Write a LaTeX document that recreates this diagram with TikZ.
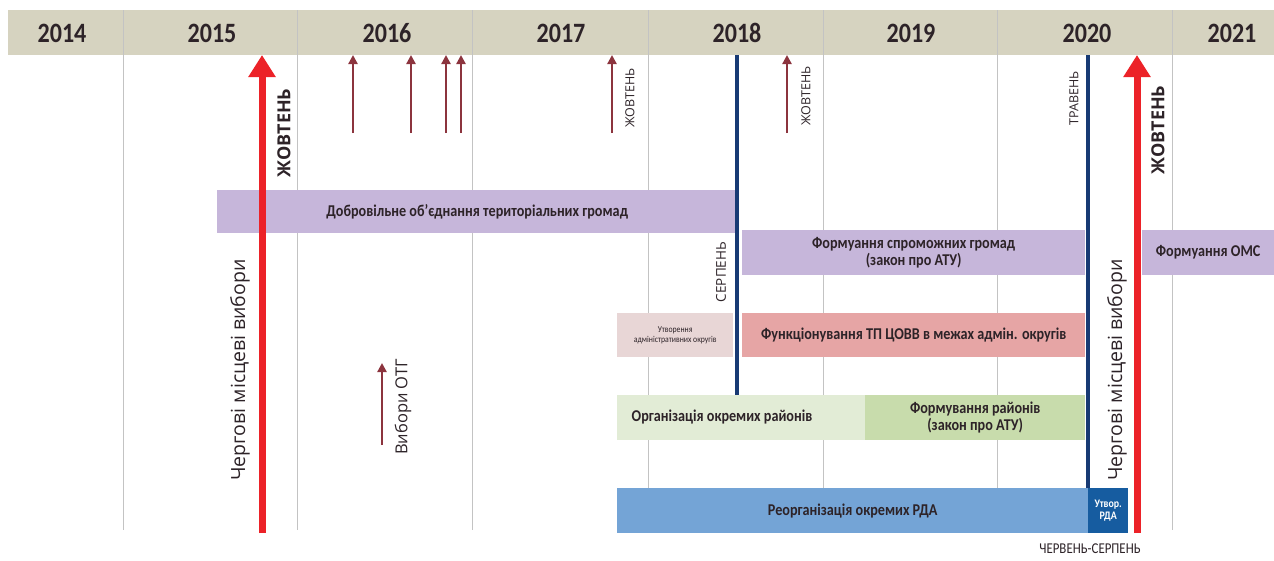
\documentclass[tikz,border=0pt]{standalone}
\usepackage{fontspec}
\setmainfont{Carlito}
\newfontfamily\condfont[FakeStretch=0.86]{Carlito}
\newfontfamily\lblfont{Open Sans}
\usetikzlibrary{arrows.meta,positioning}

\definecolor{hdrcol}{RGB}{214,211,192}
\definecolor{gridcol}{RGB}{195,195,195}
\definecolor{lilac}{RGB}{198,182,218}
\definecolor{rosepale}{RGB}{232,214,214}
\definecolor{rose}{RGB}{230,165,165}
\definecolor{greenpale}{RGB}{226,236,214}
\definecolor{greenmid}{RGB}{200,220,172}
\definecolor{bluebar}{RGB}{116,164,214}
\definecolor{bluedark}{RGB}{22,92,160}
\definecolor{navyline}{RGB}{24,58,116}
\definecolor{redline}{RGB}{236,34,40}
\definecolor{wine}{RGB}{140,52,62}
\definecolor{txtcol}{RGB}{45,35,40}

\tikzset{
  yearlbl/.style={font=\condfont\bfseries\fontsize{28}{28}\selectfont, text=txtcol},
  bar/.style={anchor=north west, inner sep=0pt, align=center, text=txtcol,
    font=\condfont\bfseries\fontsize{16.5}{17}\selectfont},
  bigarrow/.style={draw=redline, line width=7pt, -{Triangle[width=26pt,length=22pt]}},
  smallarrow/.style={draw=wine, line width=2.5pt, -{Triangle[width=9pt,length=9pt]}},
  navy/.style={draw=navyline, line width=4pt},
  vlbl/.style={rotate=90, font=\lblfont\fontsize{19.5}{19.5}\selectfont, text=txtcol},
  monthbold/.style={rotate=90, font=\lblfont\bfseries\fontsize{18}{18}\selectfont, text=txtcol},
  month/.style={rotate=90, font=\lblfont\fontsize{12.5}{12.5}\selectfont, text=txtcol}
}

\begin{document}
\begin{tikzpicture}[x=1pt,y=-1pt]
\useasboundingbox (0,0) rectangle (1274,560);
% шапка з роками
\fill[hdrcol] (8,10) rectangle (1274,55);
\foreach \x in {123,297,472,648,823,997,1172} \draw[gridcol, line width=1pt] (\x,10) -- (\x,530);
\foreach \yr/\x in {2014/62,2015/212,2016/387,2017/561,2018/737,2019/911,2020/1087,2021/1232}
  \node[yearlbl] (y\yr) at (\x,33) {\yr};

% смуги
\node[bar, fill=lilac, minimum width=520, minimum height=43] (dobr) at (217,190) {Добровільне об’єднання територіальних громад};
\node[bar, fill=lilac, minimum width=343, minimum height=45] (sprom) at (742,230) {Формуання спроможних громад\\(закон про АТУ)};
\node[bar, fill=lilac, minimum width=132, minimum height=45] (oms) at (1142,230) {Формуання ОМС};
\node[bar, fill=rosepale, minimum width=116, minimum height=44, font=\condfont\fontsize{9}{10.5}\selectfont] (okrug) at (617,313) {Утворення\\адміністративних округів};
\node[bar, fill=rose, minimum width=343, minimum height=44] (tpcovv) at (742,313) {Функціонування ТП ЦОВВ в межах адмін. округів};
\node[bar, fill=greenpale, minimum width=248, minimum height=45] (orgr) at (617,395) {};
\node[txtcol, font=\condfont\bfseries\fontsize{16.5}{17}\selectfont] at (722,417.5) {Організація окремих районів};
\node[bar, fill=greenmid, minimum width=220, minimum height=45] (formr) at (865,395) {Формування районів\\(закон про АТУ)};
\node[bar, fill=bluebar, minimum width=471, minimum height=45] (rda) at (617,488) {Реорганізація окремих РДА};
\node[bar, fill=bluedark, minimum width=40, minimum height=45, text=white, font=\condfont\bfseries\fontsize{11.5}{12.5}\selectfont] (utvrda) at (1088,488) {Утвор.\\РДА};

% лінії травень / серпень
\coordinate (n1t) at (737,55); \coordinate (n1b) at (737,395);
\coordinate (n2t) at (1088,55);
\draw[navy] (n1t) -- (n1b);
\draw[navy] (n2t) -- (utvrda.north west);

% малі стрілки
\foreach \x [count=\i] in {353,411,446,461,612,787} {
  \coordinate (s\i b) at (\x,133); \coordinate (s\i t) at (\x,55);
  \draw[smallarrow] (s\i b) -- (s\i t);
}
\coordinate (otgb) at (382,445); \coordinate (otgt) at (382,363);
\draw[smallarrow] (otgb) -- (otgt);

% вибори
\coordinate (r1b) at (262,533); \coordinate (r1t) at (262,55);
\coordinate (r2b) at (1137,533); \coordinate (r2t) at (1137,55);
\draw[bigarrow] (r1b) -- (r1t);
\draw[bigarrow] (r2b) -- (r2t);

% підписи
\node[monthbold] (zh1) at (284,133) {ЖОВТЕНЬ};
\node[monthbold] (zh2) at (1158,130) {ЖОВТЕНЬ};
\node[vlbl] (vyb1) at (240,370) {Чергові місцеві вибори};
\node[vlbl] (vyb2) at (1117,370) {Чергові місцеві вибори};
\node[month] (zh3) at (630,98) {ЖОВТЕНЬ};
\node[month] (zh4) at (806,96) {ЖОВТЕНЬ};
\node[month] (trav) at (1074,98) {ТРАВЕНЬ};
\node[month, font=\lblfont\fontsize{13.5}{13.5}\selectfont] (serp) at (721,272) {СЕРПЕНЬ};
\node[vlbl, font=\lblfont\fontsize{16.5}{16.5}\selectfont] (otg) at (403,407) {Вибори ОТГ};
\node[txtcol, font=\condfont\fontsize{15}{15}\selectfont] (chs) at (1090,549) {ЧЕРВЕНЬ-СЕРПЕНЬ};
\end{tikzpicture}
\end{document}
